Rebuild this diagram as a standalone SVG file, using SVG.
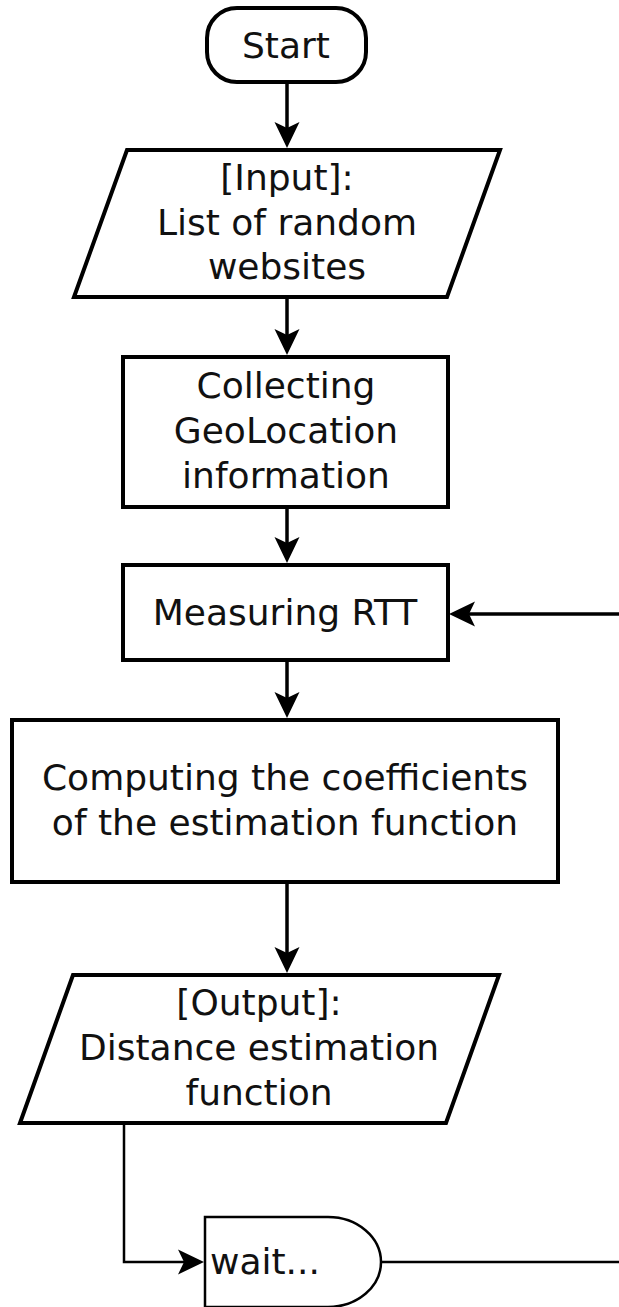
<svg xmlns="http://www.w3.org/2000/svg" width="619" height="1307" viewBox="0 0 619 1307">
  <style>
    .shape { fill: #ffffff; stroke: #000000; stroke-width: 4; stroke-linejoin: miter; }
    .thin { fill: #ffffff; stroke: #000000; stroke-width: 2.5; }
    .label { font-family: "DejaVu Sans", "Liberation Sans", sans-serif; font-size: 36px; fill: #111111; text-anchor: middle; }
    .link { fill: none; stroke: #000000; stroke-width: 3.5; }
    .link-thin { fill: none; stroke: #000000; stroke-width: 2.5; }
  </style>
  <defs>
    <!-- filled arrowhead with a shallow notch; tip sits 8px past the line end -->
    <marker id="head" markerUnits="userSpaceOnUse" markerWidth="28" markerHeight="26" refX="18" refY="12.5" orient="auto" overflow="visible">
      <path d="M0,0 L26,12.5 L0,25 L6,12.5 Z" fill="#000000"/>
    </marker>
  </defs>
  <rect width="619" height="1307" fill="#ffffff"/>

  <!-- connectors -->
  <g id="connectors">
    <line class="link" x1="287" y1="82" x2="287" y2="140" marker-end="url(#head)"/>
    <line class="link" x1="287" y1="297" x2="287" y2="347" marker-end="url(#head)"/>
    <line class="link" x1="287" y1="507" x2="287" y2="555" marker-end="url(#head)"/>
    <line class="link" x1="287" y1="660" x2="287" y2="710" marker-end="url(#head)"/>
    <line class="link" x1="287" y1="882" x2="287" y2="965" marker-end="url(#head)"/>
    <line class="link" x1="619" y1="614" x2="457" y2="614" marker-end="url(#head)"/>
    <polyline class="link-thin" points="124,1123 124,1262 196,1262" marker-end="url(#head)"/>
    <line class="link-thin" x1="381" y1="1262" x2="619" y2="1262"/>
  </g>

  <g id="start">
    <rect class="shape" x="207" y="8" width="159" height="74" rx="30" ry="30"/>
    <text class="label" x="286" y="58">Start</text>
  </g>

  <g id="input">
    <polygon class="shape" points="127,150 500,150 447,297 74,297"/>
    <text class="label" x="287" y="190">[Input]:</text>
    <text class="label" x="287" y="235">List of random</text>
    <text class="label" x="287" y="279">websites</text>
  </g>

  <g id="collect">
    <rect class="shape" x="123" y="357" width="325" height="150"/>
    <text class="label" x="286" y="398">Collecting</text>
    <text class="label" x="286" y="443">GeoLocation</text>
    <text class="label" x="286" y="488">information</text>
  </g>

  <g id="rtt">
    <rect class="shape" x="123" y="565" width="325" height="95"/>
    <text class="label" x="285" y="625">Measuring RTT</text>
  </g>

  <g id="compute">
    <rect class="shape" x="12" y="720" width="546" height="162"/>
    <text class="label" x="285" y="790">Computing the coefficients</text>
    <text class="label" x="285" y="835">of the estimation function</text>
  </g>

  <g id="output">
    <polygon class="shape" points="73,975 499,975 446,1123 20,1123"/>
    <text class="label" x="259" y="1015">[Output]:</text>
    <text class="label" x="259" y="1060">Distance estimation</text>
    <text class="label" x="259" y="1105">function</text>
  </g>

  <g id="wait">
    <path class="thin" d="M205,1217 L328,1217 A53,45 0 0 1 328,1307 L205,1307 Z"/>
    <text class="label" x="210" y="1274" style="text-anchor:start">wait...</text>
  </g>
</svg>
